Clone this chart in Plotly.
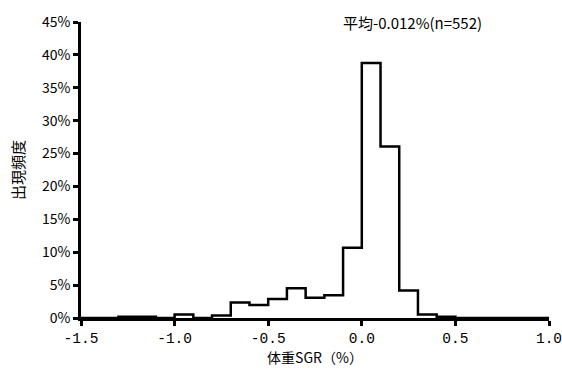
import plotly.graph_objects as go

# Bin left edges (体重SGR, %), bin width 0.1
bin_left = [-1.5, -1.4, -1.3, -1.2, -1.1, -1.0, -0.9, -0.8, -0.7, -0.6,
            -0.5, -0.4, -0.3, -0.2, -0.1, 0.0, 0.1, 0.2, 0.3, 0.4,
            0.5, 0.6, 0.7, 0.8, 0.9]
bin_right_end = 1.0
counts = [0, 0, 1, 1, 0, 3, 0, 2, 13, 11,
          16, 25, 17, 19, 59, 214, 144, 23, 3, 1,
          0, 0, 0, 0, 0]
n_total = 552
freq_pct = [c / n_total * 100 for c in counts]

x_ticks = [-1.5, -1.0, -0.5, 0.0, 0.5, 1.0]
x_tick_text = ["-1.5", "-1.0", "-0.5", "0.0", "0.5", "1.0"]
y_ticks = [0, 5, 10, 15, 20, 25, 30, 35, 40, 45]
y_tick_text = [f"{v}%" for v in y_ticks]

xs = bin_left + [bin_right_end]
ys = freq_pct + [0]

fig = go.Figure()
fig.add_trace(go.Scatter(
    x=xs, y=ys, mode="lines", line=dict(shape="hv", color="black", width=2.5),
    cliponaxis=False, showlegend=False, hoverinfo="skip"))

font_main = "Noto Sans CJK JP"
fig.update_layout(
    width=562, height=374,
    margin=dict(l=81, r=13, t=22, b=56, autoexpand=False),
    paper_bgcolor="white", plot_bgcolor="white",
    font=dict(family=font_main, color="black", size=14),
    xaxis=dict(range=[-1.5, 1.0], tickvals=x_ticks, ticktext=x_tick_text,
               showgrid=False, zeroline=False, showline=True, linecolor="black",
               linewidth=2.5, ticks="outside", ticklen=5, tickwidth=2.5,
               tickcolor="black", tickfont=dict(family="Liberation Mono", size=14.5),
               ticklabeloverflow="allow", automargin=False,
               title=dict(text="体重SGR（%）", font=dict(size=14), standoff=6)),
    yaxis=dict(range=[0, 45], tickvals=y_ticks, ticktext=y_tick_text,
               showgrid=False, zeroline=False, showline=True, linecolor="black",
               linewidth=2.5, ticks="outside", ticklen=5, tickwidth=2.5,
               tickcolor="black", tickfont=dict(size=14), automargin=False,
               title=dict(text="出現頻度", font=dict(size=15), standoff=14)),
    annotations=[dict(text="平均-0.012%(n=552)", x=0.709, y=1.0, xref="paper", yref="paper",
                      xanchor="center", yanchor="middle", showarrow=False,
                      font=dict(size=15))],
)
fig.write_html("out.html")
